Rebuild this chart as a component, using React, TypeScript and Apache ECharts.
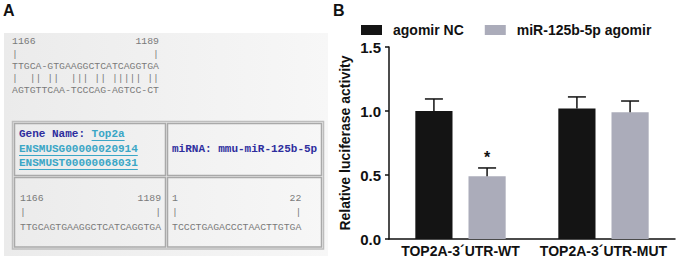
import React, { useEffect, useRef } from "react";
import * as echarts from "echarts";

// ---------- Panel B data ----------
const categories = ["TOP2A-3´UTR-WT", "TOP2A-3´UTR-MUT"];
const seriesNames = ["agomir NC", "miR-125b-5p agomir"];
const agomirNC = [1.0, 1.02];
const agomirNCErrTop = [1.094, 1.11];
const mirAgomir = [0.49, 0.99];
const mirAgomirErrTop = [0.555, 1.078];
const mirSig = ["*", ""];
const yTicks = { min: 0, max: 1.5, interval: 0.5 };
const yName = "Relative luciferase activity";

// ---------- Panel A data ----------
const alignStart = "1166";
const alignEnd = "1189";
const alignLines = [
  "TTGCA-GTGAAGGCTCATCAGGTGA",
  "|  || ||  ||| || ||||| ||",
  "AGTGTTCAA-TCCCAG-AGTCC-CT",
];
const geneLabel = "Gene Name: ";
const geneName = "Top2a";
const geneIds = ["ENSMUSG00000020914", "ENSMUST00000068031"];
const mirnaLabel = "miRNA: mmu-miR-125b-5p";
const targetSeq = "TTGCAGTGAAGGCTCATCAGGTGA";
const mirnaStart = "1";
const mirnaEnd = "22";
const mirnaSeq = "TCCCTGAGACCCTAACTTGTGA";

const SANS = '"Liberation Sans", Arial, sans-serif';
const MONO = '"Liberation Mono", "Courier New", monospace';
const SEQ_FS = 9.8;
const SEQ_CW = SEQ_FS * 0.6;
const BOLD_FS = 11;
const BOLD_CW = BOLD_FS * 0.6;
const GRAY = "#7a7a7a";
const DBLUE = "#2e2e9e";
const CYAN = "#3aa6c6";

function seqText(x: number, y: number, text: string, align: string = "left", fill = GRAY) {
  return {
    type: "text",
    x,
    y,
    style: { text, fill, font: `${SEQ_FS}px ${MONO}`, align, verticalAlign: "middle" },
  };
}
function boldText(x: number, y: number, text: string, fill: string) {
  return {
    type: "text",
    x,
    y,
    style: { text, fill, font: `bold ${BOLD_FS}px ${MONO}`, align: "left", verticalAlign: "middle" },
  };
}
function underline(x: number, y: number, n: number) {
  return {
    type: "line",
    shape: { x1: x, y1: y + 6.5, x2: x + n * BOLD_CW, y2: y + 6.5 },
    style: { stroke: CYAN, lineWidth: 1 },
  };
}

export default function App() {
  const ref = useRef<HTMLDivElement>(null);
  useEffect(() => {
    if (!ref.current) return;
    const chart = echarts.init(ref.current, undefined, { renderer: "svg" });

    const errData = [
      ...agomirNC.map((v, i) => [i, v, agomirNCErrTop[i], 0, ""]),
      ...mirAgomir.map((v, i) => [i, v, mirAgomirErrTop[i], 1, mirSig[i]]),
    ];

    // Panel A geometry
    const topX = 12;
    const topEnd = topX + alignLines[0].length * SEQ_CW;
    const lx = 20;
    const lEnd = lx + targetSeq.length * SEQ_CW;
    const rx = 172;
    const rEnd = rx + mirnaSeq.length * SEQ_CW;

    const cellStroke = { stroke: "#a9a9a9", lineWidth: 1.5, fill: "none" };

    const graphic: any[] = [
      {
        type: "text",
        x: 3,
        y: 2,
        style: { text: "A", font: `bold 16px ${SANS}`, fill: "#111" },
      },
      {
        type: "text",
        x: 333,
        y: 2,
        style: { text: "B", font: `bold 16px ${SANS}`, fill: "#111" },
      },
      {
        type: "rect",
        shape: { x: 4, y: 33, width: 324, height: 223 },
        style: {
          fill: {
            type: "linear",
            x: 0,
            y: 0,
            x2: 1,
            y2: 0,
            colorStops: [
              { offset: 0, color: "#ebebeb" },
              { offset: 1, color: "#f7f7f7" },
            ],
          },
        },
      },
      seqText(topX, 41, alignStart),
      seqText(topEnd, 41, alignEnd, "right"),
      seqText(topX, 54, "|"),
      seqText(topEnd, 54, "|", "right"),
      seqText(topX, 66, alignLines[0]),
      seqText(topX, 78, alignLines[1]),
      seqText(topX, 90, alignLines[2]),
      // table
      { type: "rect", shape: { x: 12.5, y: 121.5, width: 311, height: 127.5 }, style: { stroke: "#bdbdbd", lineWidth: 1.5, fill: "none" } },
      { type: "rect", shape: { x: 14.5, y: 123.5, width: 151, height: 52 }, style: cellStroke },
      { type: "rect", shape: { x: 167.5, y: 123.5, width: 154, height: 52 }, style: cellStroke },
      { type: "rect", shape: { x: 14.5, y: 177.5, width: 151, height: 69.5 }, style: cellStroke },
      { type: "rect", shape: { x: 167.5, y: 177.5, width: 154, height: 69.5 }, style: cellStroke },
      boldText(19, 134, geneLabel, DBLUE),
      boldText(19 + geneLabel.length * BOLD_CW, 134, geneName, CYAN),
      underline(19 + geneLabel.length * BOLD_CW, 134, geneName.length),
      boldText(19, 149, geneIds[0], CYAN),
      underline(19, 149, geneIds[0].length),
      boldText(19, 163, geneIds[1], CYAN),
      underline(19, 163, geneIds[1].length),
      boldText(172, 149, mirnaLabel, DBLUE),
      seqText(lx, 198, alignStart),
      seqText(lEnd, 198, alignEnd, "right"),
      seqText(lx, 212, "|"),
      seqText(lEnd, 212, "|", "right"),
      seqText(lx, 227, targetSeq),
      seqText(rx, 198, mirnaStart),
      seqText(rEnd, 198, mirnaEnd, "right"),
      seqText(rx, 212, "|"),
      seqText(rEnd, 212, "|", "right"),
      seqText(rx, 227, mirnaSeq),
    ];

    const BAR_FRAC = 0.26;
    const GAP_FRAC = 0.43;

    chart.setOption({
      animation: false,
      backgroundColor: "#ffffff",
      graphic,
      legend: {
        data: seriesNames,
        left: 356,
        top: 18,
        itemWidth: 21,
        itemHeight: 10,
        itemGap: 21,
        icon: "rect",
        textStyle: {
          fontFamily: SANS,
          fontWeight: "bold",
          fontSize: 14,
          color: "#111",
          padding: [0, 0, 0, 6],
        },
      },
      grid: { left: 389, top: 47, right: 1, bottom: 21 },
      xAxis: {
        type: "category",
        data: categories,
        axisLine: { lineStyle: { color: "#111", width: 1.5 } },
        axisTick: { alignWithLabel: true, length: 5, lineStyle: { color: "#111", width: 1.5 } },
        axisLabel: {
          interval: 0,
          hideOverlap: false,
          fontFamily: SANS,
          fontWeight: "bold",
          fontSize: 14,
          color: "#111",
          margin: 5,
        },
      },
      yAxis: {
        type: "value",
        min: yTicks.min,
        max: yTicks.max,
        interval: yTicks.interval,
        name: yName,
        nameLocation: "middle",
        nameGap: 37,
        nameTextStyle: { fontFamily: SANS, fontWeight: "bold", fontSize: 14, color: "#111" },
        axisLine: { show: true, lineStyle: { color: "#111", width: 1.5 } },
        axisTick: { show: true, length: 4, lineStyle: { color: "#111", width: 1.5 } },
        splitLine: { show: false },
        axisLabel: {
          fontFamily: SANS,
          fontWeight: "bold",
          fontSize: 15,
          color: "#111",
          margin: 8,
          formatter: (v: number) => v.toFixed(1),
        },
      },
      series: [
        {
          name: seriesNames[0],
          type: "bar",
          data: agomirNC,
          barWidth: `${BAR_FRAC * 100}%`,
          barGap: `${GAP_FRAC * 100}%`,
          itemStyle: { color: "#141414" },
        },
        {
          name: seriesNames[1],
          type: "bar",
          data: mirAgomir,
          barWidth: `${BAR_FRAC * 100}%`,
          barGap: `${GAP_FRAC * 100}%`,
          itemStyle: { color: "#abacba" },
        },
        {
          type: "custom",
          data: errData,
          z: 10,
          encode: { x: 0, y: 2 },
          renderItem: (params: any, api: any) => {
            const cat = api.value(0);
            const val = api.value(1);
            const top = api.value(2);
            const s = api.value(3);
            const sig = errData[params.dataIndex][4] as string;
            const base = api.coord([cat, val]);
            const tip = api.coord([cat, top]);
            const band = api.size([1, 0])[0];
            const bw = band * BAR_FRAC;
            const off = (s === 0 ? -1 : 1) * (bw * (1 + GAP_FRAC)) / 2;
            const x = base[0] + off;
            const cap = 9;
            const children: any[] = [
              {
                type: "line",
                shape: { x1: x, y1: base[1], x2: x, y2: tip[1] },
                style: { stroke: "#111", lineWidth: 1.5 },
              },
              {
                type: "line",
                shape: { x1: x - cap, y1: tip[1], x2: x + cap, y2: tip[1] },
                style: { stroke: "#111", lineWidth: 1.5 },
              },
            ];
            if (sig) {
              children.push({
                type: "text",
                x,
                y: tip[1] - 2,
                style: {
                  text: sig,
                  fill: "#111",
                  font: `bold 16px ${SANS}`,
                  align: "center",
                  verticalAlign: "bottom",
                },
              });
            }
            return { type: "group", children };
          },
        },
      ],
    });
    return () => chart.dispose();
  }, []);
  return (
    <div
      ref={ref}
      style={{ position: "fixed", left: 0, top: 0, width: 676, height: 260 }}
    />
  );
}
